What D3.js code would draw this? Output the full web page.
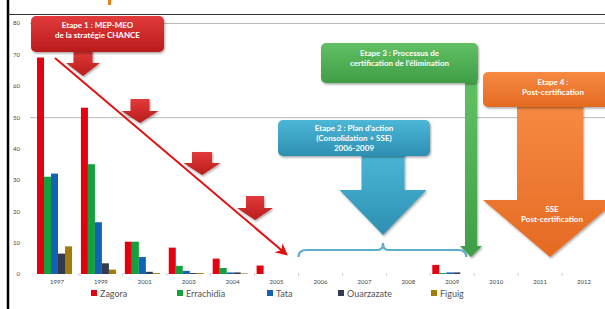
<!DOCTYPE html>
<html>
<head>
<meta charset="utf-8">
<script src="https://cdn.jsdelivr.net/npm/d3@7"></script>
<style>
  body { margin: 0; background: #fff; }
  text { font-family: Lato, "Open Sans", sans-serif; }
  .box-text { fill: #fff; font-weight: bold; font-size: 8px; text-anchor: middle; }
  .tick-label { fill: #444; font-size: 6px; }
  .legend-text { fill: #555; font-size: 9px; }
</style>
</head>
<body>
<svg id="chart" width="605" height="309"></svg>
<script>
// data
var years = ["1997", "1999", "2001", "2003", "2004", "2005", "2006", "2007", "2008", "2009", "2010", "2011", "2012"];
var provinces = ["Zagora", "Errachidia", "Tata", "Ouarzazate", "Figuig"];
var zagora     = [69, 53, 10.3, 8.4, 4.9, 2.7, 0, 0, 0, 2.9, 0, 0, 0];
var errachidia = [31, 35, 10.3, 2.6, 1.9, 0, 0, 0, 0, 0.3, 0, 0, 0];
var tata       = [32, 16.5, 5.4, 1, 0.5, 0, 0, 0, 0, 0.5, 0, 0, 0];
var ouarzazate = [6.5, 3.4, 0.7, 0.3, 0.5, 0, 0, 0, 0, 0.5, 0, 0, 0];
var figuig     = [8.8, 1.4, 0.3, 0.3, 0.2, 0, 0, 0, 0, 0, 0, 0, 0];
var yTicks = [0, 10, 20, 30, 40, 50, 60, 70, 80];
var gridValues = [80, 50];
var colors = ["#e3000f", "#13a03e", "#1462b5", "#343a50", "#a27b0b"];

var series = [zagora, errachidia, tata, ouarzazate, figuig];

var svg = d3.select("#chart");
var defs = svg.append("defs");

function vGrad(id, top, bottom) {
  var g = defs.append("linearGradient").attr("id", id)
    .attr("x1", 0).attr("y1", 0).attr("x2", 0).attr("y2", 1);
  g.append("stop").attr("offset", "0%").attr("stop-color", top);
  g.append("stop").attr("offset", "100%").attr("stop-color", bottom);
}
vGrad("gRed", "#e23a3a", "#b81c1c");
vGrad("gGreen", "#62c064", "#3f9e46");
vGrad("gBlue", "#4cb7d6", "#2d8fb2");
vGrad("gOrange", "#f68a42", "#e56a22");

var shadow = defs.append("filter").attr("id", "shadow")
  .attr("x", "-10%").attr("y", "-10%").attr("width", "130%").attr("height", "140%");
shadow.append("feDropShadow").attr("dx", 1).attr("dy", 1.5)
  .attr("stdDeviation", 1).attr("flood-color", "#000").attr("flood-opacity", 0.35);

// scales
var x = d3.scaleBand().domain(years).range([35, 606]);
var xSub = d3.scaleBand().domain(provinces).range([2, 37]);
var y = d3.scaleLinear().domain([0, 80]).range([274, 23]);

// frame lines
svg.append("line").attr("x1", 8).attr("x2", 8).attr("y1", 0).attr("y2", 309)
  .attr("stroke", "#000").attr("stroke-width", 2.5);
svg.append("line").attr("x1", 8).attr("x2", 605).attr("y1", 14.5).attr("y2", 14.5)
  .attr("stroke", "#333").attr("stroke-width", 1);
// orange bit of cut-off title
svg.append("rect").attr("x", 108).attr("y", 0).attr("width", 3).attr("height", 5).attr("fill", "#e8801a");

// grid
svg.selectAll(".grid").data(gridValues).enter().append("line")
  .attr("x1", 30).attr("x2", 605)
  .attr("y1", function(d) { return y(d) + 0.5; })
  .attr("y2", function(d) { return y(d) + 0.5; })
  .attr("stroke", "#b8b8b8").attr("stroke-width", 1);

// y axis labels
var leftAxis = d3.axisLeft(y).tickValues(yTicks).tickSize(0).tickPadding(0);
var gy = svg.append("g").attr("transform", "translate(20,0)").call(leftAxis);
gy.select(".domain").remove();
gy.selectAll("text").attr("class", "tick-label").attr("font-family", null).attr("font-size", null);

// x axis labels and small ticks
var bottomAxis = d3.axisBottom(x).tickSize(0).tickPadding(0);
var gx = svg.append("g").attr("transform", "translate(0,280)").call(bottomAxis);
gx.select(".domain").remove();
gx.selectAll("text").attr("class", "tick-label").attr("font-family", null).attr("font-size", null);
svg.selectAll(".xtick").data(years.slice(1)).enter().append("line")
  .attr("x1", function(d) { return x(d); }).attr("x2", function(d) { return x(d); })
  .attr("y1", 273).attr("y2", 276).attr("stroke", "#ccc");

// bars
var groups = svg.selectAll(".year").data(years).enter().append("g")
  .attr("transform", function(d) { return "translate(" + x(d) + ",0)"; });
groups.selectAll("rect")
  .data(function(d, i) {
    return provinces.map(function(p, j) { return { key: p, value: series[j][i], color: colors[j] }; });
  })
  .enter().append("rect")
  .attr("x", function(d) { return xSub(d.key); })
  .attr("y", function(d) { return y(d.value); })
  .attr("width", xSub.bandwidth())
  .attr("height", function(d) { return y(0) - y(d.value); })
  .attr("fill", function(d) { return d.color; });

// legend
var legendX = [91, 177, 267, 338, 431];
var legend = svg.selectAll(".legend").data(provinces).enter().append("g")
  .attr("transform", function(d, i) { return "translate(" + legendX[i] + ",290)"; });
legend.append("rect").attr("width", 6).attr("height", 6)
  .attr("fill", function(d, i) { return colors[i]; });
legend.append("text").attr("class", "legend-text").attr("x", 9).attr("y", 6.5)
  .text(function(d) { return d; });

// ---- annotations ----
function box(x0, y0, w, h, fill, lines, lineY) {
  svg.append("rect").attr("x", x0).attr("y", y0).attr("width", w).attr("height", h)
    .attr("rx", 5).attr("fill", fill).attr("filter", "url(#shadow)");
  lines.forEach(function(t, i) {
    svg.append("text").attr("class", "box-text")
      .attr("x", x0 + w / 2).attr("y", lineY[i]).text(t);
  });
}
function downArrow(cx, top, shaftW, headTop, headW, tip, fill) {
  var p = d3.path();
  p.moveTo(cx - shaftW / 2, top);
  p.lineTo(cx + shaftW / 2, top);
  p.lineTo(cx + shaftW / 2, headTop);
  p.lineTo(cx + headW / 2, headTop);
  p.lineTo(cx, tip);
  p.lineTo(cx - headW / 2, headTop);
  p.lineTo(cx - shaftW / 2, headTop);
  p.closePath();
  svg.append("path").attr("d", p.toString()).attr("fill", fill).attr("filter", "url(#shadow)");
}

// step 1
downArrow(83, 50, 19, 63, 34, 76, "url(#gRed)");
box(31, 16, 133, 36, "url(#gRed)", ["Etape 1 : MEP-MEO", "de la stratégie CHANCE"], [28, 38]);
downArrow(140, 99, 19, 111, 37, 123, "url(#gRed)");
downArrow(202, 152, 20, 163, 37, 175, "url(#gRed)");
downArrow(255, 196, 18, 208, 36, 220, "url(#gRed)");

// long diagonal arrow
var arrowHead = defs.append("marker").attr("id", "head")
  .attr("viewBox", "0 0 10 10").attr("refX", 8).attr("refY", 5)
  .attr("markerWidth", 6).attr("markerHeight", 6).attr("orient", "auto");
arrowHead.append("path").attr("d", "M0,0 L10,5 L0,10 L3,5 Z").attr("fill", "#e01010");
svg.append("line").attr("x1", 55).attr("y1", 58).attr("x2", 286).attr("y2", 254)
  .attr("stroke", "#e01010").attr("stroke-width", 2).attr("marker-end", "url(#head)");

// step 3 (green) — shaft goes down to 2009
var gx3 = 471;
downArrow(gx3, 80, 12, 246, 22, 257, "url(#gGreen)");
box(321, 43, 157, 40, "url(#gGreen)", ["Etape 3 : Processus de", "certification de l\u2019élimination"], [56, 66]);

// step 2 (blue) + brace over 2006-2009
var bx0 = x("2006"), bx1 = x("2009") + x.bandwidth() - 8, bmid = 383;
var brace = d3.path();
brace.moveTo(bx0, 257);
brace.quadraticCurveTo(bx0, 250, bx0 + 8, 250);
brace.lineTo(bmid - 5, 250);
brace.quadraticCurveTo(bmid, 250, bmid, 243);
brace.quadraticCurveTo(bmid, 250, bmid + 5, 250);
brace.lineTo(bx1 - 8, 250);
brace.quadraticCurveTo(bx1, 250, bx1, 257);
svg.append("path").attr("d", brace.toString()).attr("fill", "none")
  .attr("stroke", "#5aaecb").attr("stroke-width", 2.2);
downArrow(bmid, 152, 43, 190, 87, 235, "url(#gBlue)");
box(278, 120, 152, 36, "url(#gBlue)", ["Etape 2 : Plan d\u2019action", "(Consolidation + SSE)", "2006-2009"], [131, 141, 151]);

// step 4 (orange)
downArrow(550, 104, 66, 200, 134, 257, "url(#gOrange)");
box(483, 72, 140, 35, "url(#gOrange)", ["Etape 4 :", "Post-certification"], [85, 95]);
svg.append("text").attr("class", "box-text").attr("x", 552).attr("y", 212).text("SSE");
svg.append("text").attr("class", "box-text").attr("x", 552).attr("y", 222).text("Post-certification");
</script>
</body>
</html>
